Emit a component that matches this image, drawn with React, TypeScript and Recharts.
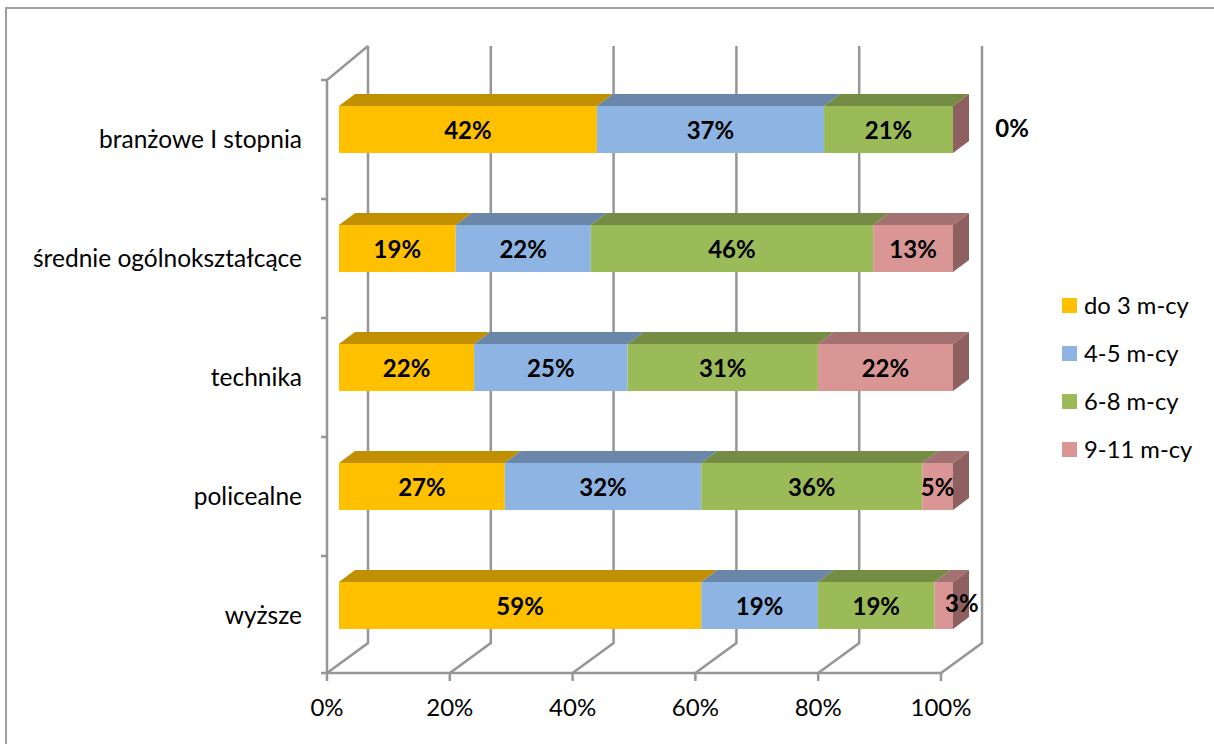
import React from 'react';
import { BarChart, Bar, XAxis, YAxis, CartesianGrid, Legend, LabelList } from 'recharts';

const categories = ['branżowe I stopnia', 'średnie ogólnokształcące', 'technika', 'policealne', 'wyższe'];
const seriesNames = ['do 3 m-cy', '4-5 m-cy', '6-8 m-cy', '9-11 m-cy'];
const upTo3 = [42, 19, 22, 27, 59];
const from4to5 = [37, 22, 25, 32, 19];
const from6to8 = [21, 46, 31, 36, 19];
const from9to11 = [0, 13, 22, 5, 3];
const xTicks = [0, 20, 40, 60, 80, 100];

const seriesValues = [upTo3, from4to5, from6to8, from9to11];
const data = categories.map((name, i) => {
  const row: Record<string, string | number> = { name };
  seriesNames.forEach((s, j) => {
    row[s] = seriesValues[j][i];
  });
  return row;
});

const FRONT = ['#FFC000', '#8DB4E2', '#9BBB59', '#D99694'];
const TOP = ['#C09000', '#6A87AA', '#748C43', '#A37170'];
const SIDE = '#8F6060';
const GRID = '#969696';
const FONT = 'Lato, sans-serif';

// 3D look, offsets from the bar scale
const DEPTH_X = 16;
const DEPTH_Y = 12;
const FRONT_DX = -12; // front floor relative to bar scale
const BACK_DX = 29; // back wall relative to bar scale
const FLOOR_Y = 673;
const BACK_FLOOR_Y = 643;
const BACK_TOP_Y = 46;
const FRONT_TOP_Y = 80;
const PLOT_W = 614;
const BAND = 119;
const LABEL_DY = 10;

// hand-moved labels in the 9-11 series
const lastLabelNudgeX = [59, 0, 0, 0, 18];
const lastLabelNudgeY = [-2, 0, 0, 0, -3];

const barShape = (serie: number) => (props: any) => {
  const { x, y, width, height } = props;
  const right = x + width;
  return (
    <g>
      <polygon
        points={`${x},${y} ${x + DEPTH_X},${y - DEPTH_Y} ${right + DEPTH_X},${y - DEPTH_Y} ${right},${y}`}
        fill={TOP[serie]}
      />
      <rect x={x} y={y} width={width} height={height} fill={FRONT[serie]} />
      {serie === 3 && (
        <polygon
          points={`${right},${y} ${right + DEPTH_X},${y - DEPTH_Y} ${right + DEPTH_X},${y + height - DEPTH_Y} ${right},${y + height}`}
          fill={SIDE}
        />
      )}
    </g>
  );
};

const barLabel = (serie: number) => (props: any) => {
  const { x, y, width, height, value, index } = props;
  const nudgeX = serie === 3 ? lastLabelNudgeX[index] : 0;
  const nudgeY = serie === 3 ? lastLabelNudgeY[index] : 0;
  return (
    <text
      x={x + width / 2 + nudgeX}
      y={y + height / 2 + 9 + nudgeY}
      textAnchor="middle"
      fontFamily={FONT}
      fontWeight={700}
      fontSize={24}
      fill="#000"
    >
      {value}%
    </text>
  );
};

const wallLine = (props: any) => {
  const { x1, index } = props;
  const fx = x1 + FRONT_DX;
  const bx = x1 + BACK_DX;
  return (
    <g key={index} fill="none" stroke={GRID} strokeWidth={2.5}>
      <polyline points={`${fx},${FLOOR_Y} ${bx},${BACK_FLOOR_Y} ${bx},${BACK_TOP_Y}`} />
      <line x1={fx} y1={FLOOR_Y} x2={fx} y2={FLOOR_Y + 8} />
      {index === 0 && (
        <>
          <polyline points={`${bx},${BACK_TOP_Y} ${fx},${FRONT_TOP_Y} ${fx},${FLOOR_Y}`} />
          <line x1={fx} y1={FLOOR_Y} x2={fx + PLOT_W} y2={FLOOR_Y} />
          <line x1={fx - 6} y1={FLOOR_Y} x2={fx} y2={FLOOR_Y} />
        </>
      )}
    </g>
  );
};

const XTick = (props: any) => {
  const { x, payload } = props;
  return (
    <text x={x + FRONT_DX} y={716} textAnchor="middle" fontFamily={FONT} fontSize={24} fill="#000">
      {payload.value}%
    </text>
  );
};

const YTick = (props: any) => {
  const { y, payload } = props;
  const fx = 327;
  const tickY = y + LABEL_DY - BAND / 2;
  return (
    <g>
      <line x1={fx - 6} y1={tickY} x2={fx} y2={tickY} stroke={GRID} strokeWidth={2.5} />
      <text x={302} y={y + LABEL_DY + 8} textAnchor="end" fontFamily={FONT} fontSize={24.5} fill="#000">
        {payload.value}
      </text>
    </g>
  );
};

const LegendBox = (props: any) => (
  <div>
    {props.payload.map((p: any) => (
      <div key={p.value} style={{ height: 48, display: 'flex', alignItems: 'center' }}>
        <span style={{ width: 15, height: 15, background: p.color, marginRight: 7 }} />
        <span style={{ fontFamily: FONT, fontSize: 23.8, color: '#000' }}>{p.value}</span>
      </div>
    ))}
  </div>
);

export default function App() {
  return (
    <div style={{ position: 'absolute', left: 0, top: 0, width: 1214, height: 744, overflow: 'hidden', background: '#fff' }}>
      <div
        style={{
          position: 'absolute',
          left: 5,
          top: 7,
          width: 1240,
          height: 780,
          boxSizing: 'border-box',
          border: '2px solid #A0A0A0',
        }}
      />
      <BarChart
        width={1214}
        height={744}
        data={data}
        layout="vertical"
        barSize={47}
        margin={{ top: 70, right: 107, bottom: 0, left: 0 }}
        style={{ position: 'absolute', left: 0, top: 0 }}
      >
        <CartesianGrid horizontal={false} vertical={wallLine} />
        <XAxis
          type="number"
          domain={[0, 100]}
          ticks={xTicks}
          height={79}
          axisLine={false}
          tickLine={false}
          tick={XTick}
          interval={0}
        />
        <YAxis
          type="category"
          dataKey="name"
          width={339}
          axisLine={false}
          tickLine={false}
          tick={YTick}
          interval={0}
        />
        <Legend
          layout="vertical"
          align="right"
          verticalAlign="top"
          content={LegendBox}
          itemSorter={null}
          wrapperStyle={{ left: 1062, top: 281, width: 154 }}
        />
        {seriesNames.map((s, i) => (
          <Bar key={s} dataKey={s} stackId="a" fill={FRONT[i]} shape={barShape(i)} isAnimationActive={false}>
            <LabelList dataKey={s} content={barLabel(i)} />
          </Bar>
        ))}
      </BarChart>
    </div>
  );
}
